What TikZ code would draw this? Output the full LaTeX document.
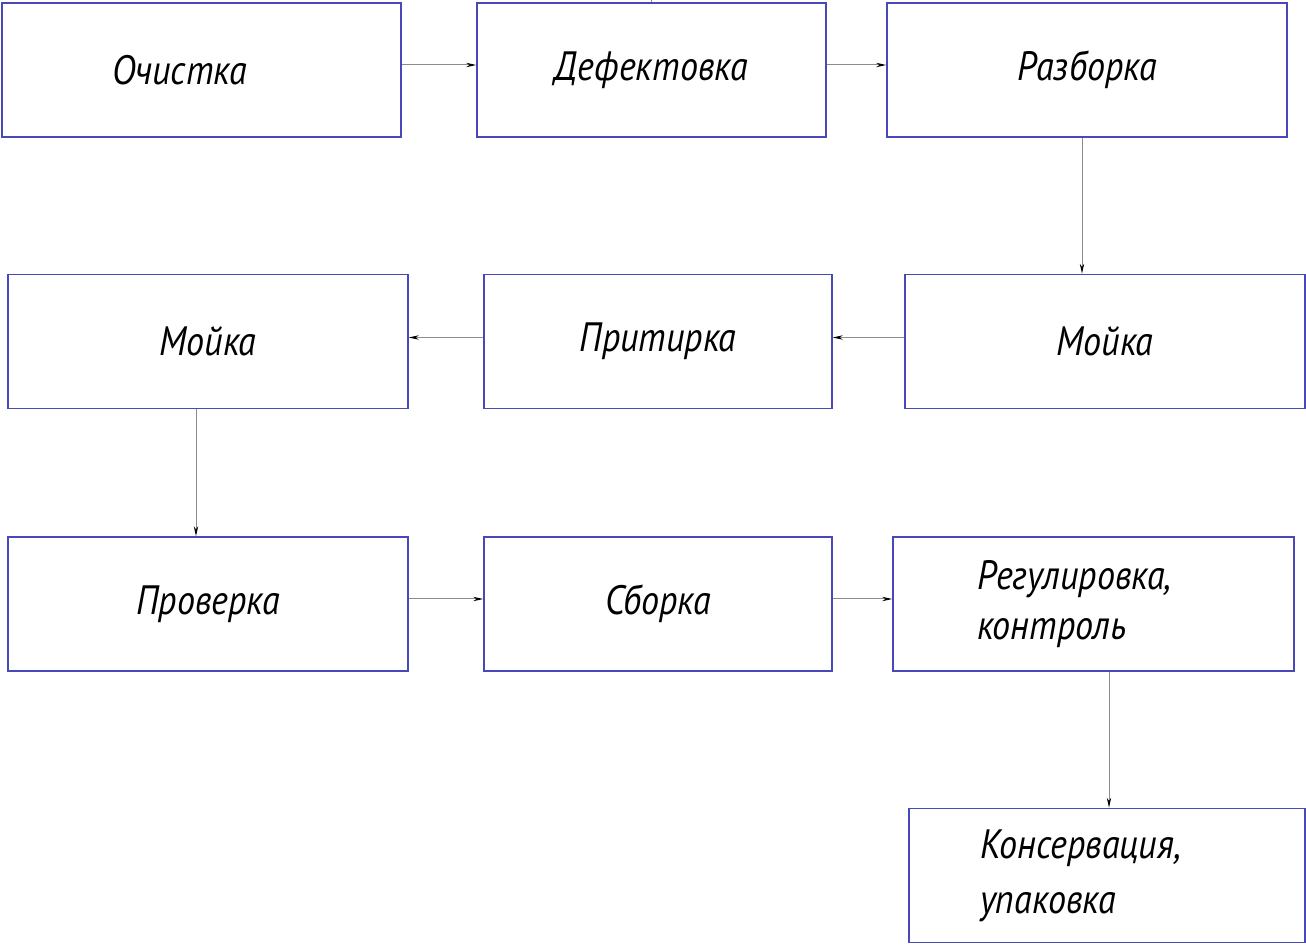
\documentclass[tikz,border=0pt]{standalone}
\usepackage{fontspec}
\setmainfont{PT Sans}[FakeStretch=0.88]
\usetikzlibrary{arrows.meta}
\definecolor{frameblue}{RGB}{72,72,185}
\definecolor{linkgray}{RGB}{140,140,140}
\tikzset{
  opbox/.style={draw=frameblue, line width=0.8pt, minimum height=67pt, inner sep=0pt,
    font=\itshape\fontsize{20.5}{25}\selectfont},
  link/.style={draw=linkgray, line width=0.5pt, -{Stealth[length=5pt,width=2.2pt,black]}}
}
\begin{document}
\begin{tikzpicture}[x=0.5pt,y=-0.5pt]
\useasboundingbox (0,0) rectangle (1306,945);
% first row
\node[opbox, align=left, inner xsep=55pt, text width=89.5pt] (ochistka) at (201.5,70) {Очистка};
\node[opbox, minimum width=174.5pt] (defekt) at (651.5,70) {Дефектовка};
\node[opbox, minimum width=200pt] (razborka) at (1087,70) {Разборка};
% second row
\node[opbox, minimum width=200pt] (moikaR) at (1105,341.5) {Мойка};
\node[opbox, minimum width=174pt] (pritirka) at (658,341.5) {Притирка};
\node[opbox, minimum width=200pt] (moikaL) at (208,341.5) {Мойка};
% third row
\node[opbox, minimum width=200pt] (proverka) at (208,604) {Проверка};
\node[opbox, minimum width=174pt] (sborka) at (658,604) {Сборка};
\node[opbox, align=left, inner xsep=42pt, text width=116.5pt] (regul) at (1093.5,604)
  {Регулировка,\\контроль};
% last box
\node[opbox, align=left, inner xsep=35.5pt, text width=127pt,
  font=\itshape\fontsize{20.5}{27.5}\selectfont] (konserv) at (1107,875.5)
  {Консервация,\\упаковка};
\coordinate (tick) at (651,0);
\draw[draw=linkgray, line width=0.5pt] (tick) -- (tick |- defekt.north);
% links
\draw[link] ([yshift=2.5pt]ochistka.east) -- ([yshift=2.5pt]defekt.west);
\draw[link] ([yshift=2.5pt]defekt.east) -- ([yshift=2.5pt]razborka.west);
\draw[link] ([xshift=-2.5pt]razborka.south) -- ([xshift=-2.5pt]razborka.south |- moikaR.north);
\draw[link] ([yshift=2pt]moikaR.west) -- ([yshift=2pt]pritirka.east);
\draw[link] ([yshift=2pt]pritirka.west) -- ([yshift=2pt]moikaL.east);
\draw[link] ([xshift=-6pt]moikaL.south) -- ([xshift=-6pt]moikaL.south |- proverka.north);
\draw[link] ([yshift=2.5pt]proverka.east) -- ([yshift=2.5pt]sborka.west);
\draw[link] ([yshift=2.5pt]sborka.east) -- ([yshift=2.5pt]regul.west);
\draw[link] ([xshift=7.75pt]regul.south) -- ([xshift=7.75pt]regul.south |- konserv.north);
\end{tikzpicture}
\end{document}
